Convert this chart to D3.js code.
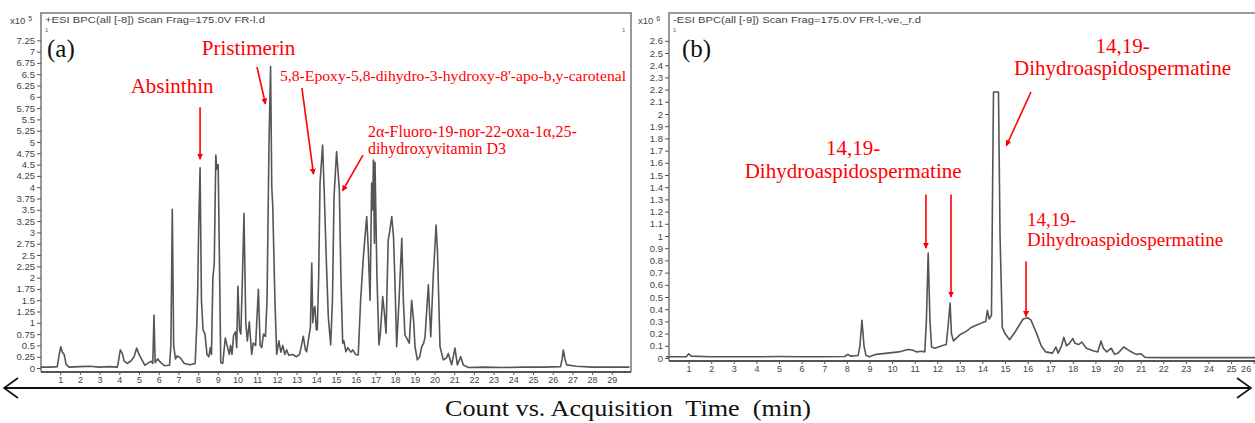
<!DOCTYPE html>
<html>
<head>
<meta charset="utf-8">
<script src="https://cdn.jsdelivr.net/npm/d3@7"></script>
<style>
  body { margin: 0; background: #fff; }
  svg { display: block; }
</style>
</head>
<body>
<div id="chart"></div>
<script>
const WIDTH = 1255, HEIGHT = 423

// (a) +ESI BPC trace, counts x10^5
const aTime = [0, 0.5, 0.85, 0.95, 1.03, 1.1, 1.2, 1.3, 1.45, 2, 2.5, 3, 3.5, 3.9, 3.98, 4.05, 4.15, 4.25, 4.4, 4.6,
  4.75, 4.88, 5, 5.15, 5.3, 5.5, 5.62, 5.7, 5.76, 5.82, 5.95, 6.1, 6.3, 6.55, 6.62, 6.69, 6.76, 6.85, 6.95, 7.1,
  7.3, 7.6, 7.85, 7.93, 7.98, 8.03, 8.1, 8.17, 8.25, 8.35, 8.45, 8.55, 8.62, 8.68, 8.75, 8.82, 8.9, 8.95, 9.02, 9.08,
  9.15, 9.25, 9.38, 9.5, 9.58, 9.65, 9.72, 9.8, 9.9, 9.96, 10.02, 10.1, 10.17, 10.25, 10.33, 10.42, 10.5, 10.6, 10.72, 10.8,
  10.92, 11.06, 11.15, 11.23, 11.32, 11.42, 11.5, 11.6, 11.68, 11.74, 11.79, 11.9, 11.99, 12.1, 12.2, 12.3, 12.4, 12.5, 12.6, 12.8,
  13, 13.15, 13.25, 13.34, 13.45, 13.51, 13.6, 13.7, 13.77, 13.82, 13.88, 13.93, 14, 14.05, 14.12, 14.19, 14.32, 14.4, 14.5, 14.61,
  14.73, 14.82, 14.9, 15.03, 15.17, 15.25, 15.34, 15.4, 15.5, 15.6, 15.75, 15.85, 16, 16.13, 16.25, 16.39, 16.56, 16.64, 16.73, 16.81,
  16.86, 16.9, 16.95, 16.98, 17.08, 17.18, 17.25, 17.37, 17.46, 17.54, 17.65, 17.72, 17.83, 17.92, 18, 18.08, 18.2, 18.34, 18.42, 18.5,
  18.6, 18.72, 18.84, 18.95, 19.01, 19.13, 19.25, 19.35, 19.45, 19.52, 19.69, 19.81, 19.94, 20, 20.08, 20.15, 20.28, 20.45, 20.6, 20.7,
  20.87, 21.04, 21.16, 21.33, 21.46, 21.72, 22.5, 23.5, 24.5, 25.5, 26.4, 26.48, 26.54, 26.62, 26.71, 27.2, 28, 29.9]
const aCount = [0.02, 0.02, 0.03, 0.3, 0.47, 0.36, 0.3, 0.08, 0.02, 0.03, 0.04, 0.02, 0.03, 0.02, 0.2, 0.4, 0.33, 0.15, 0.1, 0.16,
  0.25, 0.44, 0.3, 0.18, 0.06, 0.12, 0.15, 0.1, 1.17, 0.12, 0.2, 0.12, 0.05, 0.06, 0.5, 3.51, 0.5, 0.2, 0.27, 0.22,
  0.1, 0.07, 0.1, 0.9, 1.72, 3.1, 4.43, 1.5, 0.85, 0.75, 0.3, 0.25, 0.45, 0.3, 2.0, 2.3, 4.71, 4.4, 4.5, 2.5,
  0.12, 0.1, 0.66, 0.45, 0.3, 0.5, 0.3, 0.72, 0.8, 0.45, 1.81, 0.85, 0.75, 2.0, 3.42, 1.0, 0.6, 1.02, 0.3, 0.55,
  0.5, 1.74, 0.5, 0.45, 0.75, 0.7, 1.5, 5.0, 6.67, 4.0, 3.57, 1.5, 0.3, 0.6, 0.35, 0.5, 0.3, 0.4, 0.28, 0.3,
  0.25, 0.3, 0.5, 0.7, 0.4, 0.36, 0.62, 0.9, 2.32, 1.0, 1.3, 1.36, 0.85, 0.84, 2.0, 4.1, 4.93, 3.94, 2.5, 1.13,
  0.51, 1.5, 3.79, 4.79, 3.94, 2.0, 0.55, 0.6, 0.36, 0.45, 0.35, 0.4, 0.3, 0.29, 1.5, 2.46, 3.35, 2.61, 1.5, 4.09,
  3.5, 4.6, 2.76, 4.55, 2.0, 0.51, 0.75, 1.58, 1.2, 0.77, 2.83, 3.0, 3.35, 2.9, 1.8, 0.47, 1.5, 2.87, 1.5, 0.73,
  0.65, 0.55, 1.5, 1.0, 0.47, 0.18, 0.25, 0.47, 0.55, 0.69, 1.84, 0.69, 2.06, 2.5, 3.16, 2.6, 0.47, 0.18, 0.22, 0.32,
  0.07, 0.44, 0.07, 0.25, 0.07, 0.01, 0.02, 0.01, 0.02, 0.02, 0.03, 0.2, 0.4, 0.2, 0.07, 0.04, 0.02, 0.02]

// (b) -ESI BPC trace, counts x10^6
const bTime = [0, 0.9, 1, 1.12, 2, 3, 4, 5, 6, 7, 7.9, 8.05, 8.15, 8.5, 8.58, 8.67, 8.76, 8.85, 9, 9.3,
  9.8, 10.3, 10.7, 10.9, 11.1, 11.3, 11.45, 11.52, 11.6, 11.68, 11.75, 11.9, 12.2, 12.4, 12.5, 12.57, 12.63, 12.72, 13, 13.3,
  13.5, 13.75, 14, 14.15, 14.22, 14.3, 14.4, 14.45, 14.49, 14.71, 14.78, 14.88, 15, 15.2, 15.4, 15.6, 15.8, 16, 16.15, 16.4,
  16.6, 16.8, 17.1, 17.25, 17.35, 17.5, 17.6, 17.72, 17.85, 18, 18.1, 18.25, 18.4, 18.6, 18.9, 19.1, 19.25, 19.35, 19.5, 19.7,
  19.85, 20, 20.25, 20.5, 20.8, 21, 21.2, 22, 26.1]
const bCount = [0.01, 0.01, 0.035, 0.015, 0.01, 0.01, 0.01, 0.012, 0.01, 0.01, 0.012, 0.03, 0.015, 0.02, 0.1, 0.31, 0.1, 0.02, 0.01, 0.03,
  0.04, 0.05, 0.07, 0.065, 0.05, 0.055, 0.05, 0.3, 0.86, 0.3, 0.09, 0.08, 0.1, 0.11, 0.3, 0.45, 0.2, 0.14, 0.19, 0.22,
  0.25, 0.27, 0.29, 0.3, 0.39, 0.32, 0.35, 1.4, 2.18, 2.18, 1.0, 0.25, 0.2, 0.15, 0.2, 0.26, 0.32, 0.33, 0.31, 0.2,
  0.1, 0.05, 0.04, 0.09, 0.04, 0.1, 0.17, 0.1, 0.12, 0.16, 0.12, 0.11, 0.13, 0.08, 0.06, 0.05, 0.14, 0.08, 0.05, 0.08,
  0.03, 0.04, 0.09, 0.06, 0.03, 0.035, 0.005, 0.003, 0.003]

const aYTicks = [0, 0.25, 0.5, 0.75, 1, 1.25, 1.5, 1.75, 2, 2.25, 2.5, 2.75, 3, 3.25, 3.5, 3.75, 4, 4.25, 4.5, 4.75,
  5, 5.25, 5.5, 5.75, 6, 6.25, 6.5, 6.75, 7, 7.25]
const bYTicks = [0, 0.1, 0.2, 0.3, 0.4, 0.5, 0.6, 0.7, 0.8, 0.9, 1, 1.1, 1.2, 1.3, 1.4, 1.5, 1.6, 1.7, 1.8, 1.9,
  2, 2.1, 2.2, 2.3, 2.4, 2.5, 2.6]
const aXTicks = [1, 2, 3, 4, 5, 6, 7, 8, 9, 10, 11, 12, 13, 14, 15, 16, 17, 18, 19, 20, 21, 22, 23, 24, 25, 26, 27, 28, 29]
const bXTicks = [1, 2, 3, 4, 5, 6, 7, 8, 9, 10, 11, 12, 13, 14, 15, 16, 17, 18, 19, 20, 21, 22, 23, 24, 25, 26]

const aHeader = "+ESI BPC(all [-8]) Scan Frag=175.0V FR-l.d"
const bHeader = "-ESI BPC(all [-9]) Scan Frag=175.0V FR-l,-ve,_r.d"
const xTitle = "Count vs. Acquisition  Time  (min)"

// annotations in data units of each panel: text anchor + arrow from/to
const aNotes = [
  { lines: ["Absinthin"], t: 6.68, v: 6.08, size: 21, anchor: "middle", arrow: [8.1, 5.77, 8.1, 4.62] },
  { lines: ["Pristimerin"], t: 10.56, v: 6.92, size: 21, anchor: "middle", arrow: [10.99, 6.66, 11.42, 5.84] },
  { lines: ["5,8-Epoxy-5,8-dihydro-3-hydroxy-8'-apo-b,y-carotenal"], t: 12.16, v: 6.35, size: 15, anchor: "start", len: 346, arrow: [13.27, 6.19, 13.86, 4.29] },
  { lines: ["2\u03b1-Fluoro-19-nor-22-oxa-1\u03b1,25-", "dihydroxyvitamin D3"], t: 16.62, v: 5.11, size: 16, anchor: "start", arrow: [16.37, 4.71, 15.33, 3.92] }
]
const bNotes = [
  { lines: ["14,19-", "Dihydroaspidospermatine"], t: 8.28, v: 1.66, size: 21, anchor: "middle", arrow: [11.5, 1.34, 11.5, 0.9] },
  { lines: [], t: 0, v: 0, size: 21, anchor: "middle", arrow: [12.61, 1.34, 12.61, 0.5] },
  { lines: ["14,19-", "Dihydroaspidospermatine"], t: 20.2, v: 2.5, size: 21, anchor: "middle", arrow: [16.15, 2.18, 15.06, 1.74] },
  { lines: ["14,19-", "Dihydroaspidospermatine"], t: 15.97, v: 1.08, size: 19, anchor: "start", arrow: [15.93, 0.79, 15.93, 0.34] }
]

const svg = d3.select("#chart").append("svg")
  .attr("width", WIDTH)
  .attr("height", HEIGHT)

const defs = svg.append("defs")
defs.append("marker")
  .attr("id", "head")
  .attr("viewBox", "0 0 10 10")
  .attr("refX", 9).attr("refY", 5)
  .attr("markerWidth", 6).attr("markerHeight", 6)
  .attr("markerUnits", "userSpaceOnUse")
  .attr("orient", "auto")
  .append("path")
    .attr("d", "M0,0 L10,5 L0,10 z")
    .attr("fill", "#f00")

function panel(opt) {
  const x = d3.scaleLinear().domain(opt.tDomain).range(opt.xRange)
  const y = d3.scaleLinear().domain(opt.vDomain).range(opt.yRange)
  const g = svg.append("g")

  // frame
  g.append("path")
    .attr("d", `M${opt.frame[0]},${opt.axisY} V${opt.frame[1]} H${opt.frame[2]}` + (opt.frame[3] ? ` V${opt.axisY}` : ""))
    .attr("fill", "none")
    .attr("stroke", "#999")
    .attr("stroke-width", 2)

  // y axis
  const yAxis = g.append("g")
    .attr("transform", `translate(${opt.frame[0]},0)`)
    .call(d3.axisLeft(y).tickValues(opt.yTicks).tickSize(4).tickPadding(2).tickFormat(d3.format("~g")))
  yAxis.select(".domain").remove()
  yAxis.selectAll("text").attr("font-family", "Liberation Sans, Arial, sans-serif").attr("font-size", 9.5).attr("fill", "#444")
  yAxis.selectAll("line").attr("stroke", "#555")

  // x axis
  const xAxis = g.append("g")
    .attr("transform", `translate(0,${opt.axisY})`)
    .call(d3.axisBottom(x).tickValues(opt.xTicks).tickSize(3).tickPadding(2).tickFormat(d3.format("d")))
  xAxis.select(".domain").remove()
  xAxis.selectAll("text").attr("font-family", "Liberation Sans, Arial, sans-serif").attr("font-size", 9).attr("fill", "#444")
  xAxis.selectAll("line").attr("stroke", "#555")
  // keep the last label inside the page when the axis runs to the edge
  if (opt.clipLast) xAxis.selectAll("text").filter((d, i, n) => i === n.length - 1).attr("text-anchor", "end").attr("dx", -3)
  g.append("line")
    .attr("x1", opt.frame[0]).attr("x2", opt.frame[2])
    .attr("y1", opt.axisY).attr("y2", opt.axisY)
    .attr("stroke", "#555").attr("stroke-width", 2)

  // trace
  const line = d3.line()
    .x(i => x(opt.time[i]))
    .y(i => y(opt.count[i]))
  g.append("path")
    .datum(d3.range(opt.time.length))
    .attr("d", line)
    .attr("fill", "none")
    .attr("stroke", "#555")
    .attr("stroke-width", 1.6)
    .attr("stroke-linejoin", "round")

  // header, multiplier, panel letter
  g.append("text")
    .attr("x", opt.frame[0] + 4).attr("y", opt.frame[1] + 10)
    .attr("font-family", "Liberation Sans, Arial, sans-serif").attr("font-size", 9.5).attr("fill", "#444")
    .attr("textLength", opt.headerLen).attr("lengthAdjust", "spacingAndGlyphs")
    .text(opt.header)
  g.append("text")
    .attr("x", opt.frame[0] + 4).attr("y", opt.frame[1] + 19)
    .attr("font-family", "Liberation Sans, Arial, sans-serif").attr("font-size", 6).attr("fill", "#666")
    .text("1")
  const mult = g.append("text")
    .attr("x", opt.frame[0] - 31).attr("y", opt.frame[1] + 11)
    .attr("font-family", "Liberation Sans, Arial, sans-serif").attr("font-size", 9.5).attr("fill", "#444")
  mult.append("tspan").text("x10")
  mult.append("tspan").attr("dx", 3).attr("dy", -3).attr("font-size", 7).text(opt.exp)
  g.append("text")
    .attr("x", opt.frame[0] + opt.letterDx).attr("y", opt.frame[1] + 44)
    .attr("font-family", "Liberation Serif, Times New Roman, serif").attr("font-size", 25).attr("fill", "#111")
    .text(opt.letter)

  // annotations
  opt.notes.forEach(n => {
    n.lines.forEach((s, k) => {
      const t = g.append("text")
        .attr("x", x(n.t)).attr("y", y(n.v) + k * n.size * 1.05)
        .attr("text-anchor", n.anchor)
        .attr("font-family", "Liberation Serif, Times New Roman, serif")
        .attr("font-size", n.size).attr("fill", "#f00")
        .text(s)
      if (n.len) t.attr("textLength", n.len).attr("lengthAdjust", "spacingAndGlyphs")
    })
    g.append("line")
      .attr("x1", x(n.arrow[0])).attr("y1", y(n.arrow[1]))
      .attr("x2", x(n.arrow[2])).attr("y2", y(n.arrow[3]))
      .attr("stroke", "#f00").attr("stroke-width", 1.6)
      .attr("marker-end", "url(#head)")
  })
  return { x, y }
}

panel({
  time: aTime, count: aCount,
  tDomain: [0, 29.95], xRange: [40.5, 630.5],
  vDomain: [0, 7.25], yRange: [368, 40.3],
  frame: [41, 13, 631, true], axisY: 372,
  yTicks: aYTicks, xTicks: aXTicks,
  header: aHeader, headerLen: 220, exp: "5", letter: "(a)", letterDx: 6,
  notes: aNotes
})
// small marker in the top-right corner of panel (a)
svg.append("text")
  .attr("x", 622).attr("y", 32)
  .attr("font-family", "Liberation Sans, Arial, sans-serif").attr("font-size", 6).attr("fill", "#666")
  .text("1")

panel({
  time: bTime, count: bCount,
  tDomain: [0, 26.1], xRange: [666, 1255.9],
  vDomain: [0, 2.6], yRange: [358, 40.8],
  frame: [669, 13, 1256, false], axisY: 361,
  yTicks: bYTicks, xTicks: bXTicks, clipLast: true,
  header: bHeader, headerLen: 248, exp: "6", letter: "(b)", letterDx: 13,
  notes: bNotes
})

// shared x title with double-headed arrow
const arrowY = 388
svg.append("line")
  .attr("x1", 4).attr("x2", WIDTH - 4)
  .attr("y1", arrowY).attr("y2", arrowY)
  .attr("stroke", "#111").attr("stroke-width", 1.8)
svg.append("path")
  .attr("d", `M18,${arrowY - 10} L4,${arrowY} L18,${arrowY + 10} M${WIDTH - 18},${arrowY - 10} L${WIDTH - 4},${arrowY} L${WIDTH - 18},${arrowY + 10}`)
  .attr("fill", "none").attr("stroke", "#111").attr("stroke-width", 1.6)
svg.append("text")
  .attr("x", 628).attr("y", 416)
  .attr("text-anchor", "middle")
  .attr("font-family", "Liberation Serif, Times New Roman, serif")
  .attr("font-size", 23).attr("fill", "#111")
  .attr("textLength", 366).attr("lengthAdjust", "spacingAndGlyphs")
  .attr("xml:space", "preserve")
  .style("white-space", "pre")
  .text(xTitle)
</script>
</body>
</html>
